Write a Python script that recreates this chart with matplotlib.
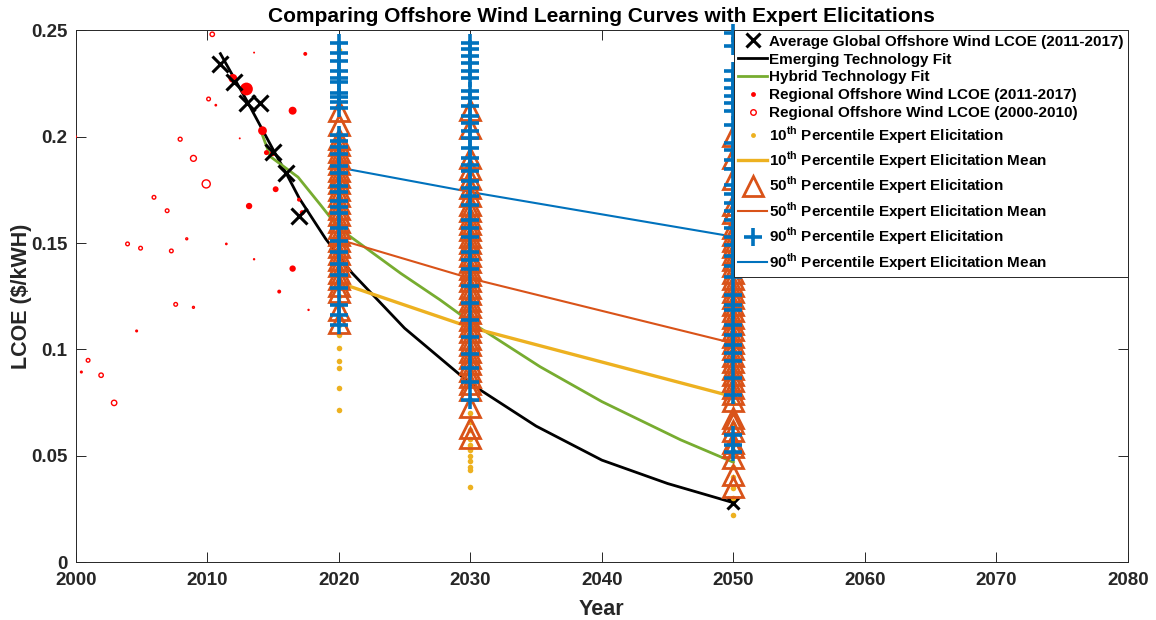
import numpy as np
import matplotlib
matplotlib.use("Agg")
import matplotlib.pyplot as plt
from matplotlib.lines import Line2D
from matplotlib.ticker import FormatStrFormatter

plt.rcParams['font.family'] = ['Liberation Sans', 'DejaVu Sans']
plt.rcParams['font.weight'] = 'bold'
plt.rcParams['mathtext.fontset'] = 'custom'
plt.rcParams['mathtext.rm'] = 'Liberation Sans'
plt.rcParams['mathtext.bf'] = 'Liberation Sans:bold'

# Average global offshore LCOE
avg_years = [2011, 2012, 2013, 2014, 2015, 2016, 2017]
avg_lcoe = [0.2342, 0.2258, 0.2157, 0.2160, 0.1930, 0.1828, 0.1629]
proj_year = [2050]
proj_lcoe = [0.0278]

# Learning curve fits
emerging_years = [2011, 2013, 2014, 2015, 2016, 2017, 2019, 2020, 2021, 2025, 2030, 2035, 2040, 2045, 2050]
emerging_lcoe = [0.239, 0.217, 0.2055, 0.194, 0.1828, 0.171, 0.152, 0.144, 0.136, 0.110, 0.084, 0.064, 0.048, 0.037, 0.028]
hybrid_years = [2014.1, 2014.8, 2016.9, 2018.6, 2020, 2024.7, 2027.7, 2030, 2035.3, 2040, 2046, 2050]
hybrid_lcoe = [0.2023, 0.1906, 0.181, 0.168, 0.157, 0.1358, 0.1233, 0.113, 0.0919, 0.0755, 0.0575, 0.047]

# Regional projects 2011-2017 (filled) and 2000-2010 (open); size ~ project scale
reg_new_years = [2011.95, 2012.98, 2013.56, 2017.45, 2016.49, 2014.2, 2012.47, 2014.5, 2014.98,
                 2015.2, 2013.18, 2016.97, 2017.22, 2011.45, 2013.56, 2016.49, 2015.47, 2017.7]
reg_new_lcoe = [0.2274, 0.2224, 0.2395, 0.2389, 0.2122, 0.2028, 0.1992, 0.1925, 0.1922,
                0.1753, 0.1674, 0.1704, 0.1643, 0.1496, 0.1424, 0.138, 0.1272, 0.1186]
reg_new_size = [40, 85, 2, 8, 33, 40, 2, 13, 18, 18, 21, 8, 13, 4, 3, 21, 8, 3]

reg_old_years = [2010.38, 2010.1, 2007.94, 2008.95, 2009.92, 2005.95, 2006.95, 2003.94, 2004.93,
                 2007.27, 2007.6, 2000.94, 2001.93, 2002.92, 2010.65, 2008.44, 2008.95, 2004.63,
                 2000.43, 2000.0]
reg_old_lcoe = [0.2481, 0.2177, 0.1988, 0.1898, 0.1778, 0.1715, 0.1652, 0.1496, 0.1476,
                0.1463, 0.1212, 0.0949, 0.0879, 0.0749, 0.2148, 0.152, 0.1198, 0.1087,
                0.0894, 0.2]
reg_old_size = [10, 7, 8, 18, 34, 7, 7, 7, 7, 7, 7, 7, 10, 15, 1, 2, 2, 1.5, 1.5, 1]

# Expert elicitations
p10_2020 = [0.2409, 0.185, 0.165, 0.15, 0.14, 0.132, 0.125, 0.1117, 0.107, 0.1007, 0.0945, 0.0913, 0.0819, 0.0717]
p50_2020 = [0.212, 0.2055, 0.199, 0.196, 0.193, 0.19, 0.187, 0.184, 0.181, 0.178, 0.175, 0.172, 0.169, 0.166,
            0.163, 0.16, 0.157, 0.154, 0.151, 0.148, 0.145, 0.142, 0.139, 0.136, 0.133, 0.13, 0.127, 0.1187, 0.1125]
p90_2020 = [0.244, 0.2393, 0.2354, 0.2307, 0.2276, 0.2257, 0.2205, 0.2187, 0.2163, 0.2135,
            0.201, 0.198, 0.195, 0.192, 0.186, 0.183, 0.177, 0.174, 0.17, 0.167, 0.164,
            0.157, 0.151, 0.146, 0.14, 0.135, 0.129, 0.121, 0.1163, 0.1117]

p10_2030 = [0.143, 0.125, 0.11, 0.1, 0.09, 0.0758, 0.0702, 0.066, 0.062, 0.058, 0.055, 0.0528, 0.05,
            0.0475, 0.045, 0.0434, 0.0355]
p50_2030 = [0.2125, 0.204, 0.19, 0.185, 0.18, 0.176, 0.172, 0.168, 0.165, 0.162, 0.159, 0.156, 0.153, 0.15,
            0.147, 0.144, 0.141, 0.138, 0.135, 0.132, 0.129, 0.126, 0.123, 0.12, 0.117, 0.114, 0.111, 0.108,
            0.105, 0.102, 0.099, 0.096, 0.093, 0.09, 0.087, 0.084, 0.081, 0.073, 0.063, 0.0585]
p90_2030 = [0.244, 0.241, 0.2378, 0.2345, 0.231, 0.2276, 0.2213, 0.2182, 0.2143, 0.2096, 0.2064, 0.2025,
            0.1994, 0.1947, 0.19, 0.1868, 0.1837, 0.179, 0.1759, 0.172, 0.168, 0.161, 0.157, 0.153,
            0.146, 0.142, 0.138, 0.13, 0.122, 0.114, 0.106, 0.098, 0.0912, 0.0849, 0.0763]

p10_2050 = [0.075, 0.07, 0.065, 0.06, 0.055, 0.05, 0.045, 0.04, 0.035, 0.03, 0.0222]
p50_2050 = [0.2002, 0.19, 0.18, 0.168, 0.164, 0.157, 0.154, 0.151, 0.148, 0.145, 0.142, 0.139, 0.136, 0.133,
            0.13, 0.127, 0.124, 0.121, 0.118, 0.115, 0.112, 0.109, 0.106, 0.103, 0.1, 0.097, 0.094, 0.091,
            0.088, 0.085, 0.082, 0.079, 0.076, 0.0678, 0.0653, 0.0616, 0.056, 0.0543, 0.049, 0.0412, 0.0355]
p90_2050 = [0.2488, 0.2425, 0.2307, 0.2268, 0.2229, 0.219, 0.2158, 0.2119, 0.2056, 0.197, 0.1939, 0.1892,
            0.185, 0.1774, 0.173, 0.169, 0.165, 0.161, 0.157, 0.153, 0.149, 0.144, 0.139, 0.134, 0.1257,
            0.121, 0.1186, 0.1115, 0.1068, 0.1022, 0.0983, 0.0946, 0.0867, 0.0786, 0.0598, 0.0553, 0.052]

elic_years = [2020, 2030, 2050]
p10_mean = [0.1314, 0.1104, 0.0778]
p50_mean = [0.1517, 0.1334, 0.1029]
p90_mean = [0.1855, 0.174, 0.153]

c_yel = '#EDB120'
c_ora = '#D95319'
c_blu = '#0072BD'
c_grn = '#77AC30'
c_ax = '#262626'

fig = plt.figure(figsize=(11.56, 6.2), dpi=100)
ax = fig.add_axes([0.0655, 0.0931, 0.9103, 0.8581])

# fits and means underneath the markers
ax.plot(emerging_years, emerging_lcoe, color='k', lw=2.0, zorder=2)
ax.plot(hybrid_years, hybrid_lcoe, color=c_grn, lw=2.0, zorder=2)
ax.plot(elic_years, p10_mean, color=c_yel, lw=2.4, zorder=2)
ax.plot(elic_years, p50_mean, color=c_ora, lw=1.5, zorder=2)
ax.plot(elic_years, p90_mean, color=c_blu, lw=1.5, zorder=2)

ax.scatter(reg_new_years, reg_new_lcoe, s=reg_new_size, c='r', edgecolors='none', zorder=3)
ax.scatter(reg_old_years, reg_old_lcoe, s=reg_old_size, facecolors='none', edgecolors='r',
           linewidths=1.0, zorder=3)
ax.plot(avg_years, avg_lcoe, 'x', color='k', ms=11, mew=2.2, zorder=4)
ax.plot(proj_year, proj_lcoe, 'x', color='k', ms=9, mew=2.2, zorder=4)

for yr, p10, p50, p90 in zip(elic_years, [p10_2020, p10_2030, p10_2050],
                             [p50_2020, p50_2030, p50_2050], [p90_2020, p90_2030, p90_2050]):
    ax.plot([yr] * len(p10), p10, 'o', color=c_yel, ms=4, mew=0, zorder=4.1, clip_on=False)
    ax.plot([yr] * len(p50), p50, '^', mfc='none', mec=c_ora, ms=15, mew=2.0, zorder=4.2, clip_on=False)
    ax.plot([yr] * len(p90), p90, '+', color=c_blu, ms=12.5, mew=2.6, zorder=4.3, clip_on=False)

ax.set_xlim(2000, 2080)
ax.set_ylim(0, 0.25)
ax.set_xticks(np.arange(2000, 2081, 10))
ax.set_yticks([0, 0.05, 0.1, 0.15, 0.2, 0.25])
ax.yaxis.set_major_formatter(FormatStrFormatter('%g'))
ax.tick_params(direction='in', length=7, width=0.7, colors=c_ax, labelsize=13.5,
               top=True, right=True)
ax.tick_params(axis='x', pad=7)
ax.tick_params(axis='y', pad=6)
for lab in ax.get_xticklabels() + ax.get_yticklabels():
    lab.set_fontweight('bold')
for sp in ax.spines.values():
    sp.set_color(c_ax)
    sp.set_linewidth(0.7)

ax.set_title('Comparing Offshore Wind Learning Curves with Expert Elicitations',
             fontsize=15, fontweight='bold', pad=6)
ax.set_xlabel('Year', fontsize=15.5, fontweight='bold', color=c_ax, labelpad=7)
ax.set_ylabel(r'LCOE (\$/kWH)', fontsize=15.5, fontweight='bold', color=c_ax, labelpad=-1)

handles = [
    Line2D([], [], ls='none', marker='x', color='k', ms=10, mew=2.2),
    Line2D([], [], color='k', lw=2.0),
    Line2D([], [], color=c_grn, lw=2.0),
    Line2D([], [], ls='none', marker='o', color='r', ms=3.5, mew=0),
    Line2D([], [], ls='none', marker='o', mfc='none', mec='r', ms=4, mew=1.0),
    Line2D([], [], ls='none', marker='o', color=c_yel, ms=3.5, mew=0),
    Line2D([], [], color=c_yel, lw=2.4),
    Line2D([], [], ls='none', marker='^', mfc='none', mec=c_ora, ms=15, mew=2.0),
    Line2D([], [], color=c_ora, lw=1.5),
    Line2D([], [], ls='none', marker='+', color=c_blu, ms=13, mew=2.6),
    Line2D([], [], color=c_blu, lw=1.5),
]
labels = [
    'Average Global Offshore Wind LCOE (2011-2017)',
    'Emerging Technology Fit',
    'Hybrid Technology Fit',
    'Regional Offshore Wind LCOE (2011-2017)',
    'Regional Offshore Wind LCOE (2000-2010)',
    r'10$^{\bf th}$ Percentile Expert Elicitation',
    r'10$^{\bf th}$ Percentile Expert Elicitation Mean',
    r'50$^{\bf th}$ Percentile Expert Elicitation',
    r'50$^{\bf th}$ Percentile Expert Elicitation Mean',
    r'90$^{\bf th}$ Percentile Expert Elicitation',
    r'90$^{\bf th}$ Percentile Expert Elicitation Mean',
]
leg = ax.legend(handles, labels, loc='upper right', bbox_to_anchor=(1, 1), borderaxespad=0,
                prop={'weight': 'bold', 'size': 11}, handlelength=1.9, handletextpad=0.1,
                borderpad=0.3, labelspacing=0.25, fancybox=False, framealpha=1,
                edgecolor=c_ax)
leg.get_frame().set_linewidth(0.7)
leg.set_zorder(10)

fig.savefig('out.png', dpi=100)
